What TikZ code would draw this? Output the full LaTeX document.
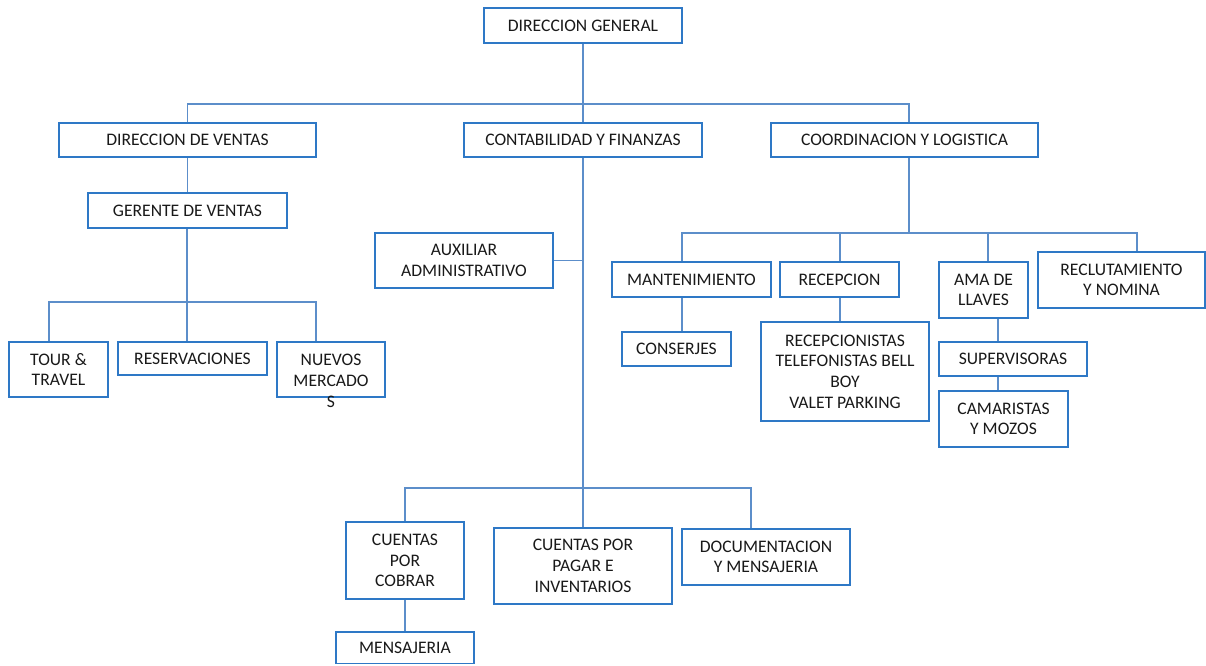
\documentclass[tikz,border=0pt]{standalone}
\usepackage{fontspec}
\setmainfont{Carlito}
\definecolor{boxblue}{RGB}{46,120,198}
\definecolor{linkblue}{RGB}{92,142,202}
\tikzset{
  box/.style={draw=boxblue, line width=1.1pt, fill=white, inner sep=0pt,
    align=center, font=\fontsize{13.2pt}{15.5pt}\selectfont, text=black!90},
  txt/.style={inner sep=0pt, align=center, font=\fontsize{13.2pt}{15.5pt}\selectfont, text=black!90},
  link/.style={draw=linkblue, line width=1pt}
}
% \orgbox{name}{x1}{y1}{x2}{y2}{text}: a box given by its corners
\newcommand\orgbox[6]{%
  \node[box, minimum width={(#4-#2)*0.75pt}, minimum height={(#5-#3)*0.75pt}]
    (#1) at ({(#2+#4)/2},{(#3+#5)/2}) {#6};}
\begin{document}
\begin{tikzpicture}[x=0.75pt, y=-0.75pt]
\useasboundingbox (0,0) rectangle (1206,665);

% connector columns and bus levels
\coordinate (busTop) at (583,104);
\coordinate (busGv) at (187,302);
\coordinate (busCf) at (583,488);
\coordinate (busCl) at (909,233);
\coordinate (xTour) at (49,0);
\coordinate (xNm) at (316,0);
\coordinate (xCl) at (909,0);
\coordinate (xMant) at (682,0);
\coordinate (xAma) at (988,0);
\coordinate (xAmaDown) at (998,0);
\coordinate (xRecl) at (1137,0);
\coordinate (xDoc) at (751,0);
\coordinate (xRec) at (840,0);

% top level
\orgbox{dg}{484}{8}{682}{43}{DIRECCION GENERAL}
\orgbox{dv}{59}{123}{316}{157}{DIRECCION DE VENTAS}
\orgbox{cf}{464}{123}{702}{157}{CONTABILIDAD Y FINANZAS}
\orgbox{cl}{771}{123}{1038}{157}{COORDINACION Y LOGISTICA}

% sales
\orgbox{gv}{88}{193}{287}{228}{GERENTE DE VENTAS}
\orgbox{tour}{9}{342}{108}{397}{TOUR \&\\TRAVEL}
\orgbox{res}{118}{342}{267}{375}{RESERVACIONES}
\orgbox{nm}{277}{342}{385}{397}{}
\node[txt] (nmtext) at (331,381) {NUEVOS\\MERCADO\\S};

% accounting
\orgbox{aux}{375}{233}{553}{288}{AUXILIAR\\ADMINISTRATIVO}
\orgbox{cxc}{346}{522}{464}{599}{CUENTAS\\POR\\COBRAR}
\orgbox{cxp}{494}{528}{672}{604}{CUENTAS POR\\PAGAR E\\INVENTARIOS}
\orgbox{doc}{682}{529}{850}{585}{DOCUMENTACION\\Y MENSAJERIA}
\orgbox{mens}{336}{632}{474}{663.5}{MENSAJERIA}

% coordination
\orgbox{mant}{612}{262}{771}{297}{MANTENIMIENTO}
\orgbox{rec}{780}{262}{899}{297}{RECEPCION}
\orgbox{ama}{939}{262}{1028}{318}{AMA DE\\LLAVES}
\orgbox{recl}{1038}{252}{1205}{308}{RECLUTAMIENTO\\Y NOMINA}
\orgbox{cons}{622}{332}{731}{366}{CONSERJES}
\orgbox{recs}{761}{322}{929}{421}{RECEPCIONISTAS\\TELEFONISTAS BELL\\BOY\\VALET PARKING}
\orgbox{sup}{939}{342}{1087}{376}{SUPERVISORAS}
\orgbox{cam}{939}{391}{1068}{447}{CAMARISTAS\\Y MOZOS}

% connectors
\draw[link] (dg.south) -- (cf.north);
\draw[link] (dv.north) |- (busTop) -| (cl.north -| xCl);
\draw[link] (dv.south) -- (gv.north);
\draw[link] (gv.south -| busGv) -- (busGv);
\draw[link] (tour.north -| xTour) |- (busGv) -| (nm.north -| xNm);
\draw[link] (busGv) -- (res.north -| busGv);
\draw[link] (cf.south) -- (busCf);
\draw[link] (aux.east) -- (aux.east -| cf.south);
\draw[link] (cxc.north) |- (busCf) -| (doc.north -| xDoc);
\draw[link] (busCf) -- (cxp.north);
\draw[link] (cxc.south) -- (mens.north);
\draw[link] (cl.south -| xCl) -- (busCl);
\draw[link] (mant.north -| xMant) |- (busCl) -| (recl.north -| xRecl);
\draw[link] (xRec |- busCl) -- (rec.north -| xRec);
\draw[link] (xAma |- busCl) -- (ama.north -| xAma);
\draw[link] (mant.south -| xMant) -- (cons.north -| xMant);
\draw[link] (rec.south -| xRec) -- (recs.north -| xRec);
\draw[link] (ama.south -| xAmaDown) -- (sup.north -| xAmaDown);
\draw[link] (sup.south -| xAmaDown) -- (cam.north -| xAmaDown);
\end{tikzpicture}
\end{document}
